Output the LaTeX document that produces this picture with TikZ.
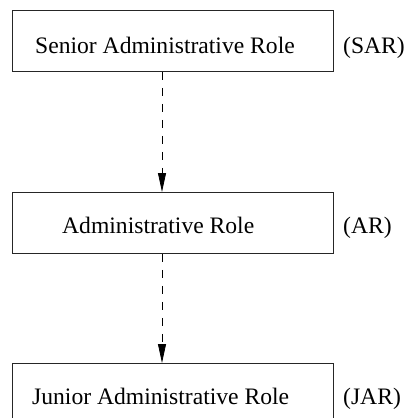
\documentclass[tikz,border=0pt]{standalone}
\usepackage{fontspec}
\setmainfont{Liberation Serif}
\usetikzlibrary{arrows.meta}
\begin{document}
\begin{tikzpicture}[x=1pt,y=-1pt,
  rolebox/.style={draw=black!85,line width=0.8pt,minimum width=321pt,minimum height=61pt,inner sep=0pt,anchor=north west},
  roletext/.style={anchor=base west,inner sep=0pt,font=\fontsize{23.6}{28}\selectfont},
  abbr/.style={anchor=base west,inner sep=0pt,font=\fontsize{23.6}{28}\selectfont},
  inherit/.style={line width=0.8pt,dash pattern=on 8pt off 8pt,-{Triangle[length=19pt,width=8pt]}}]
\useasboundingbox (0,0) rectangle (407,418);
\node[rolebox] (sar) at (12,10) {};
\node[rolebox] (ar) at (12,192) {};
\node[rolebox] (jar) at (12,363) {};
\node[roletext] (sart) at (35,53) {Senior Administrative Role};
\node[roletext] (art) at (62,233) {Administrative Role};
\node[roletext] (jart) at (32,404) {Junior Administrative Role};
\node[abbr] (sarl) at (343,53) {(SAR)};
\node[abbr] (arl) at (343,233) {(AR)};
\node[abbr] (jarl) at (343,404) {(JAR)};
\coordinate (ax) at (162,0);
\draw[inherit] (sar.south -| ax) -- (ar.north -| ax);
\draw[inherit] (ar.south -| ax) -- (jar.north -| ax);
\end{tikzpicture}
\end{document}
